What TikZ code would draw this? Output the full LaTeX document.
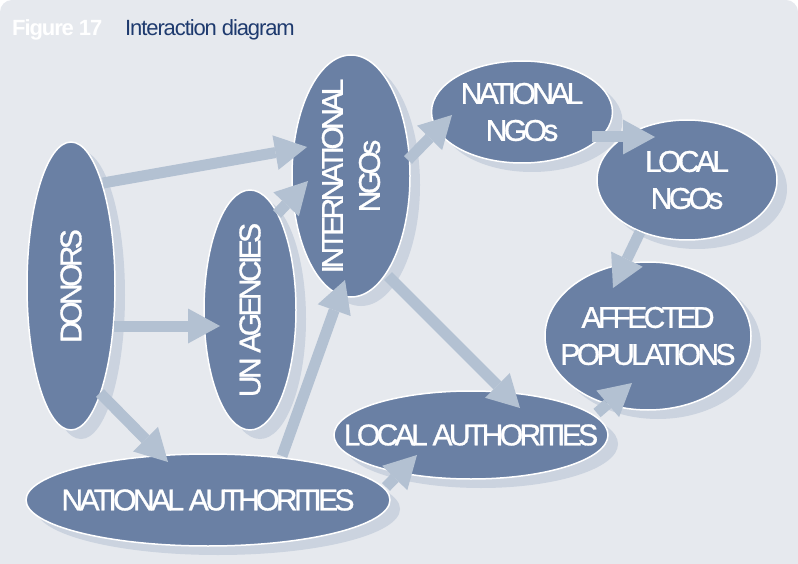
\documentclass[tikz,border=0pt]{standalone}
\usepackage{fontspec}
\setmainfont{Liberation Sans}
\newfontfamily\lblfont[LetterSpace=-12, FakeBold=1]{Liberation Sans}
\newfontfamily\ttlfont[LetterSpace=-5]{Liberation Sans}
\usetikzlibrary{shapes.geometric, shadows, arrows.meta, calc}

\definecolor{bgc}{HTML}{E6E9EE}
\definecolor{blobc}{HTML}{6A80A4}
\definecolor{shadc}{HTML}{CBD3DF}
\definecolor{flowc}{HTML}{B3C1D2}
\definecolor{titlec}{HTML}{1E3A6E}

\tikzset{
  blob/.style={ellipse, draw=white, line width=1.5pt, fill=blobc, inner sep=0pt,
    drop shadow={shadow xshift=10pt, shadow yshift=-9pt, opacity=1, fill=shadc}},
  txt/.style={text=white, align=center, inner sep=0pt,
    font=\lblfont\fontsize{30pt}{37pt}\selectfont},
  flow/.style={color=flowc, line width=11pt,
    -{Triangle[length=32pt, width=35pt, line width=0pt, fill=flowc]}},
}

\begin{document}
\begin{tikzpicture}[x=1pt, y=-1pt]
  \useasboundingbox (0,0) rectangle (798,564);
  \fill[bgc, rounded corners=12pt] (0,0) rectangle (798,564);
  \fill[bgc] (0,100) rectangle (798,564);

  \node[anchor=base west, inner sep=0pt, text=white, font=\ttlfont\bfseries\fontsize{22pt}{24pt}\selectfont] (fig) at (12,36) {Figure 17};
  \node[anchor=base west, inner sep=0pt, text=titlec, font=\ttlfont\fontsize{22pt}{24pt}\selectfont] (ttl) at (125,36) {Interaction diagram};

  \node[blob, minimum width=88pt, minimum height=288pt, label={[txt, rotate=90]center:DONORS}] (donors) at (71,286) {};
  \node[blob, minimum width=92pt, minimum height=240pt, label={[txt, rotate=90]center:UN AGENCIES}] (un) at (250,310) {};
  \node[blob, minimum width=118pt, minimum height=242pt, label={[txt, rotate=90]center:{INTERNATIONAL\\NGOs}}] (intl) at (351,176) {};
  \node[blob, minimum width=181pt, minimum height=102pt, label={[txt]center:{NATIONAL\\NGOs}}] (natngo) at (522,112) {};
  \node[blob, minimum width=180pt, minimum height=120pt, label={[txt]center:{LOCAL\\NGOs}}] (localngo) at (687,180) {};
  \node[blob, minimum width=206pt, minimum height=148pt, label={[txt]center:{AFFECTED\\POPULATIONS}}] (affected) at (648,336) {};
  \node[blob, minimum width=274pt, minimum height=88pt, label={[txt]center:LOCAL AUTHORITIES}] (localauth) at (471,435) {};
  \node[blob, minimum width=364pt, minimum height=92pt, label={[txt]center:NATIONAL AUTHORITIES}] (natauth) at (208,500) {};

  \path[flow]
  ($(donors)+(32,-103)$) edge ($(intl)+(-44,-29)$)
  ($(donors)+(43,40)$) edge ($(un)+(-30,16)$)
  ($(donors)+(29,107)$) edge ($(natauth)+(-40,-38)$)
  ($(un)+(27,-96)$) edge ($(intl)+(-43,5)$)
  ($(natauth)+(74,-44)$) edge ($(intl)+(-6,104)$)
  ($(intl)+(57,-16)$) edge ($(natngo)+(-70,3)$)
  ($(intl)+(37,100)$) edge ($(localauth)+(49,-27)$)
  ($(natngo)+(70,25)$) edge ($(localngo)+(-32,-43)$)
  ($(localngo)+(-47,52)$) edge ($(affected)+(-35,-48)$)
  ($(localauth)+(126,-22)$) edge ($(affected)+(-16,47)$)
  ($(natauth)+(178,-13)$) edge ($(localauth)+(-54,20)$);
\end{tikzpicture}
\end{document}
